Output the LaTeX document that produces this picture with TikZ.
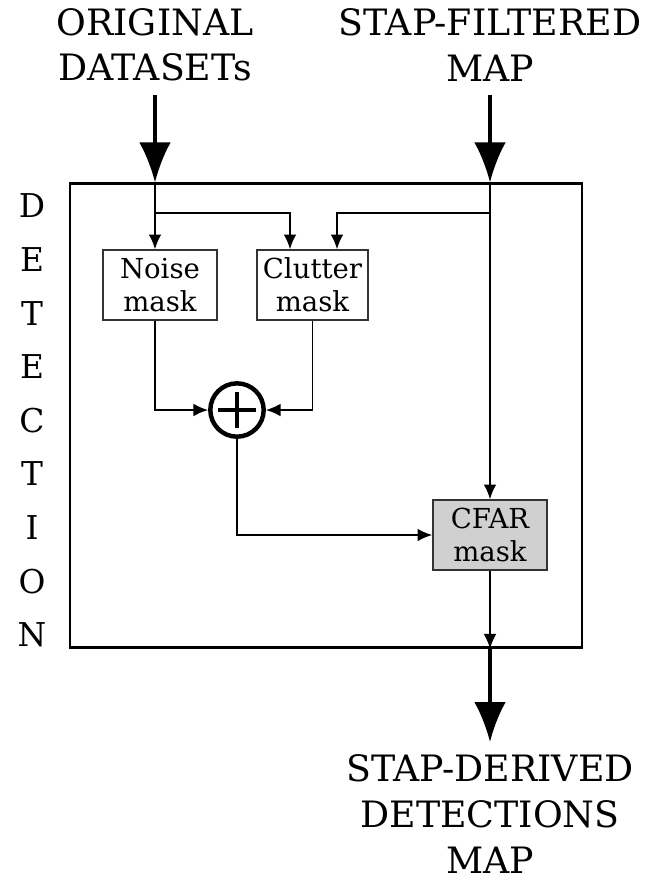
\documentclass[tikz,border=0pt]{standalone}
\usepackage{fontspec}
\setmainfont{DejaVu Serif}
\usetikzlibrary{arrows.meta,positioning,calc}
\definecolor{cfargray}{HTML}{D0D0D0}

\begin{document}
\begin{tikzpicture}[x=0.03cm, y=-0.03cm,
    io_text/.style={align=center, font=\fontsize{31}{38.5}\selectfont, inner sep=0pt},
    mask_box/.style={draw=black!80, fill=white, line width=1.4pt, minimum width=3.42cm, minimum height=2.1cm, align=center, inner sep=0pt, font=\fontsize{23.5}{28}\selectfont},
    big_arrow/.style={-{Latex[length=1.2cm, width=0.95cm]}, line width=2.8pt},
    small_arrow/.style={-{Latex[length=0.44cm, width=0.38cm]}, line width=1.3pt},
    side_letter/.style={font=\fontsize{28}{30}\selectfont, inner sep=0pt}
]
    \useasboundingbox (0,0) rectangle (650,883);

    % Nodes
    \node[io_text] (datasets) at (155,45) {ORIGINAL\\DATASETs};
    \node[io_text] (filtered) at (490,45) {STAP-FILTERED\\MAP};
    \node[io_text, font=\fontsize{31}{39.5}\selectfont] (detections) at (490,814) {STAP-DERIVED\\DETECTIONS\\MAP};

    \node[draw, line width=2.5pt, minimum width=15.36cm, minimum height=13.9cm, inner sep=0pt] (frame) at (326,415.5) {};

    \foreach \ch [count=\i from 0] in {D,E,T,E,C,T,I,O,N}
        \node[side_letter] (letter_\i) at (32,{206+\i*53.6}) {\ch};

    \node[mask_box] (noise) at (160,285) {Noise\\mask};
    \node[mask_box, minimum width=3.33cm] (clutter) at (312.5,285) {Clutter\\mask};
    \node[mask_box, fill=cfargray] (cfar) at (490,535) {CFAR\\mask};

    \node[draw, circle, line width=3.8pt, minimum size=1.6cm, inner sep=0pt] (sum) at (237,410) {};
    \draw[line width=2.6pt] ($(sum.center)+(-19,0)$) -- ($(sum.center)+(19,0)$)
        ($(sum.center)+(0,-18)$) -- ($(sum.center)+(0,18)$);

    \coordinate (in_a) at (155,95);
    \coordinate (in_b) at (490,95);
    \coordinate (out_end) at (490,742);
    \coordinate (split_a) at (155,213);
    \coordinate (split_b) at (490,213);
    \coordinate (clutter_a) at (290,213);
    \coordinate (clutter_b) at (337,213);

    % Connections
    \draw[big_arrow] (in_a) -- (in_a |- frame.north);
    \draw[big_arrow] (in_b) -- (in_b |- frame.north);
    \draw[line width=1.3pt] (in_a |- frame.north) -- (split_a);
    \draw[line width=1.3pt] (in_b |- frame.north) -- (split_b);
    \draw[small_arrow] (split_a) -- (noise.north -| split_a);
    \draw[small_arrow] (split_a) -- (clutter_a) -- (clutter_a |- clutter.north);
    \draw[small_arrow] (split_b) -- (clutter_b) -- (clutter_b |- clutter.north);
    \draw[small_arrow] (split_b) -- (cfar.north);
    \draw[small_arrow] (noise.south -| split_a) |- (sum.west);
    \draw[small_arrow] (clutter.south) |- (sum.east);
    \draw[small_arrow] (sum.south) |- (cfar.west);
    \draw[small_arrow] (cfar.south) -- (cfar.south |- frame.south);
    \draw[big_arrow] (cfar.south |- frame.south) -- (out_end);
\end{tikzpicture}
\end{document}
